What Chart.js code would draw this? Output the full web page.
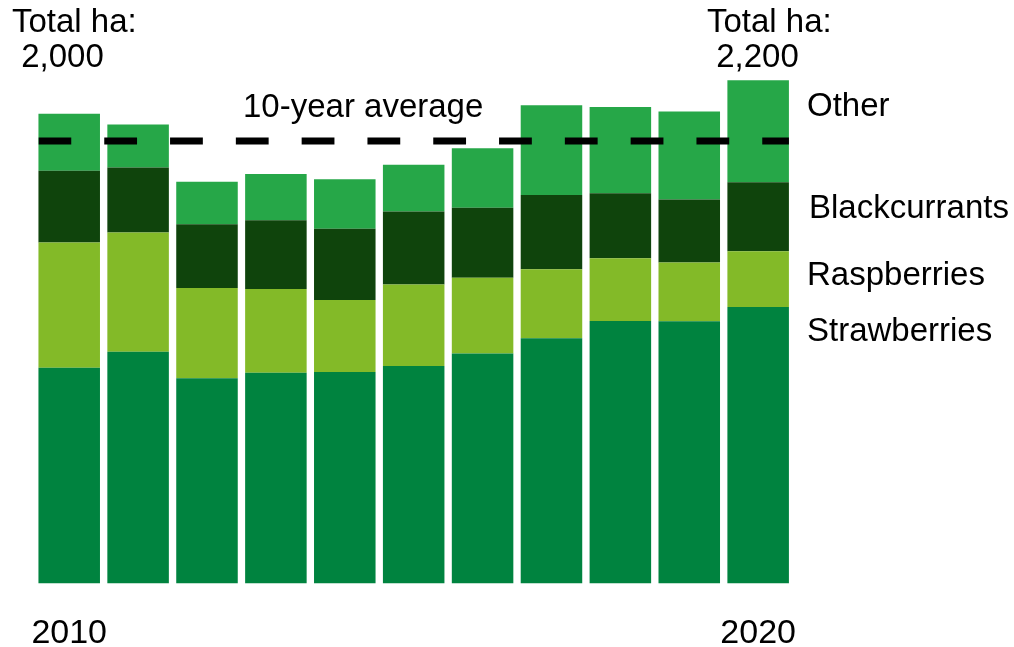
<!DOCTYPE html>
<html>
<head>
<meta charset="utf-8">
<script src="https://cdn.jsdelivr.net/npm/chart.js@4/dist/chart.umd.min.js"></script>
<style>
  html, body { margin: 0; padding: 0; background: #ffffff; }
  #wrap { width: 1014px; height: 647px; position: relative; }
</style>
</head>
<body>
<div id="wrap"><canvas id="c" width="1014" height="647"></canvas></div>
<script>
// ---- data (hectares) ----
const years = ['2010','2011','2012','2013','2014','2015','2016','2017','2018','2019','2020'];
const strawberries  = [939, 1008, 893, 917, 920, 946, 1001, 1067, 1142, 1141, 1203];
const raspberries   = [544, 519, 392, 364, 313, 355, 329, 300, 273, 255, 242];
const blackcurrants = [312, 283, 278, 299, 310, 317, 305, 323, 283, 274, 300];
const other         = [249, 187, 185, 201, 216, 204, 258, 390, 375, 383, 444];
const tenYearAverage = 1925;
const shownYears = ['2010', '2020'];
const totalFirst = '2,000';
const totalLast = '2,200';

const FONT = '"Liberation Sans", Arial, sans-serif';

const annotate = {
  id: 'annotate',
  afterDatasetsDraw(chart) {
    const ctx = chart.ctx;
    const y = chart.scales.y;
    const meta0 = chart.getDatasetMeta(0);
    const first = meta0.data[0], last = meta0.data[meta0.data.length - 1];
    const x0 = first.x - first.width / 2;
    const x1 = last.x + last.width / 2;
    const ya = y.getPixelForValue(tenYearAverage);
    ctx.save();
    ctx.beginPath();
    ctx.rect(x0, 0, x1 - x0, chart.height);
    ctx.clip();
    ctx.strokeStyle = '#000000';
    ctx.lineWidth = 7;
    ctx.lineCap = 'butt';
    ctx.setLineDash([32.8, 33]);
    ctx.beginPath();
    ctx.moveTo(x0, ya);
    ctx.lineTo(x1 + 40, ya);
    ctx.stroke();
    ctx.restore();

    ctx.save();
    ctx.fillStyle = '#000000';
    ctx.font = '33px ' + FONT;
    ctx.textBaseline = 'alphabetic';
    ctx.textAlign = 'left';
    ctx.fillText('10-year average', 243, 116.5);
    ctx.fillText('Other', 807, 116);
    ctx.fillText('Blackcurrants', 809, 218);
    ctx.fillText('Raspberries', 807, 285);
    ctx.fillText('Strawberries', 807, 341);
    ctx.fillText('Total ha:', 12, 31.5);
    ctx.fillText(' ' + totalFirst, 12, 66.5);
    ctx.fillText('Total ha:', 707, 31.5);
    ctx.fillText(' ' + totalLast, 707, 66.5);
    ctx.restore();
  }
};

new Chart(document.getElementById('c'), {
  type: 'bar',
  data: {
    labels: years,
    datasets: [
      { label: 'Strawberries',  data: strawberries,  backgroundColor: '#00833F' },
      { label: 'Raspberries',   data: raspberries,   backgroundColor: '#83BA28' },
      { label: 'Blackcurrants', data: blackcurrants, backgroundColor: '#0F440C' },
      { label: 'Other',         data: other,         backgroundColor: '#26A748' }
    ]
  },
  options: {
    responsive: false,
    animation: false,
    devicePixelRatio: 1,
    layout: { padding: { left: 30.6, right: 221.4, top: 31.8, bottom: 0 } },
    datasets: { bar: { categoryPercentage: 1, barPercentage: 0.893, borderWidth: 0 } },
    plugins: { legend: { display: false }, tooltip: { enabled: false } },
    scales: {
      x: {
        stacked: true,
        grid: { display: false, drawTicks: false },
        border: { display: false },
        ticks: {
          autoSkip: false, maxRotation: 0, padding: 30,
          color: '#000000',
          font: { family: FONT, size: 34 },
          callback: function(v, i) { const l = this.getLabelForValue(v); return shownYears.includes(l) ? l : ''; }
        },
        afterFit(scale) { scale.height = 63.5; }
      },
      y: {
        stacked: true, display: false, min: 0, max: 2400
      }
    }
  },
  plugins: [annotate]
});
</script>
</body>
</html>
